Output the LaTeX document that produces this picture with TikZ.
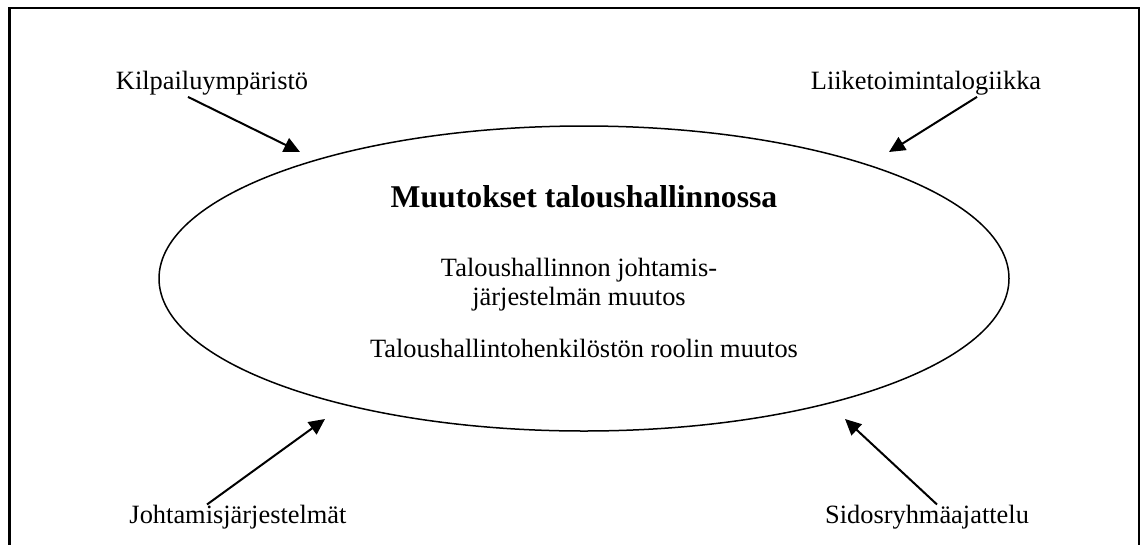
\documentclass[tikz,border=0pt]{standalone}
\usepackage{fontspec}
\setmainfont{Liberation Serif}
\usetikzlibrary{shapes.geometric,arrows.meta}
\tikzset{
  lbl/.style={inner sep=0pt, anchor=base, font=\fontsize{26.4}{30}\selectfont},
  ttl/.style={inner sep=0pt, anchor=base, font=\fontsize{31.7}{36}\selectfont\bfseries},
  arr/.style={line width=2pt, -{Triangle[length=16pt,width=15pt]}},
  frame/.style={line width=2.5pt},
  oval/.style={draw, ellipse, line width=1.5pt, inner sep=0pt, minimum width=850pt, minimum height=305pt}
}
\begin{document}
\begin{tikzpicture}[x=1pt,y=-1pt]
\useasboundingbox (0,0) rectangle (1142,544);
\draw[frame] (9.5,546) -- (9.5,8) -- (1139,8) -- (1139,546);
\node[oval] (e) at (584,278.5) {};
\node[ttl] (t) at (584,207) {Muutokset taloushallinnossa};
\node[lbl] (m1) at (579,276) {Taloushallinnon johtamis-};
\node[lbl] (m2) at (579,305) {järjestelmän muutos};
\node[lbl] (m3) at (584,357) {Taloushallintohenkilöstön roolin muutos};
\node[lbl] (k) at (212,89) {Kilpailuympäristö};
\node[lbl] (l) at (926,89) {Liiketoimintalogiikka};
\node[lbl] (j) at (238,523) {Johtamisjärjestelmät};
\node[lbl] (s) at (927,523) {Sidosryhmäajattelu};
\coordinate (kt) at (300,152);
\coordinate (lt) at (889,152);
\coordinate (jt) at (325,419);
\coordinate (st) at (845,419);
\draw[arr] ([xshift=-24pt,yshift=-2pt]k.south) -- (kt);
\draw[arr] ([xshift=51pt,yshift=-2pt]l.south) -- (lt);
\draw[arr] ([xshift=-31pt]j.north) -- (jt);
\draw[arr] ([xshift=10pt]s.north) -- (st);
\end{tikzpicture}
\end{document}
